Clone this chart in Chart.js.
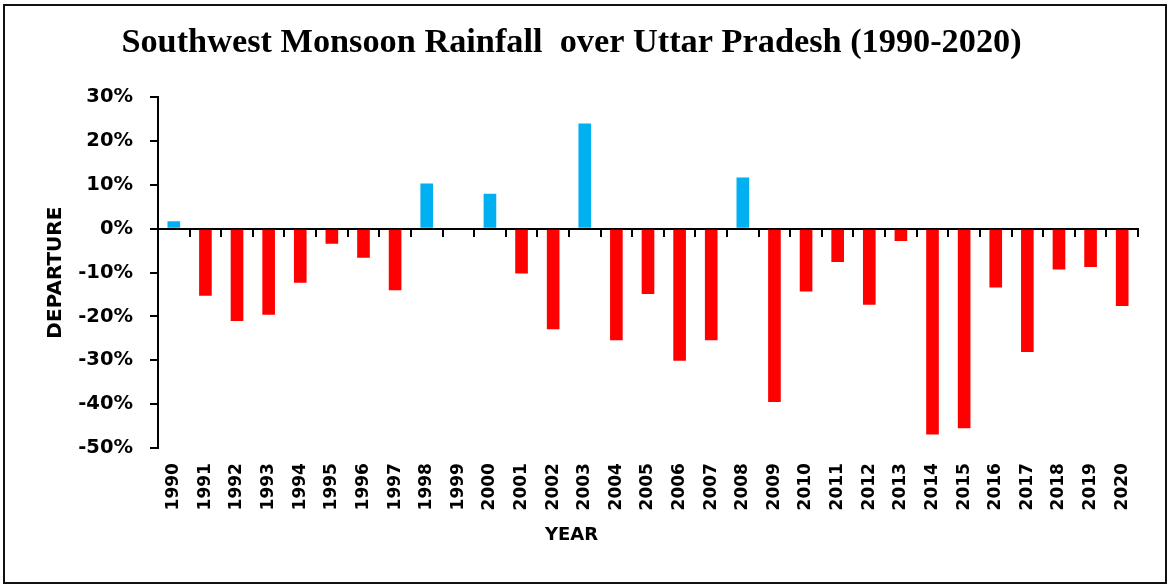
<!DOCTYPE html>
<html>
<head>
<meta charset="utf-8">
<title>Southwest Monsoon Rainfall over Uttar Pradesh (1990-2020)</title>
<script src="https://cdn.jsdelivr.net/npm/chart.js@4.4.1/dist/chart.umd.min.js"></script>
<style>
  html, body { margin: 0; padding: 0; background: #ffffff; }
  #frame {
    position: absolute; left: 3px; top: 4px;
    width: 1160px; height: 576px;
    border: 2px solid #111111; background: #ffffff;
  }
  canvas { display: block; }
</style>
</head>
<body>
<div id="frame"><canvas id="chart" width="1160" height="576"></canvas></div>
<script>
// Seasonal (June–September) rainfall departure from normal, in percent
const years = [
  '1990','1991','1992','1993','1994','1995','1996','1997','1998','1999',
  '2000','2001','2002','2003','2004','2005','2006','2007','2008','2009',
  '2010','2011','2012','2013','2014','2015','2016','2017','2018','2019','2020'
];
const departure = [
  1.7, -15.3, -21.0, -19.6, -12.3, -3.4, -6.6, -14.0, 10.3, 0.0,
  8.0, -10.2, -22.9, 24.0, -25.4, -14.9, -30.1, -25.4, 11.7, -39.5,
  -14.3, -7.6, -17.3, -2.8, -46.9, -45.5, -13.4, -28.1, -9.3, -8.7, -17.6
];
const yMin = -50, yMax = 30, yStep = 10;

const excessColor = '#00B0F0';
const deficitColor = '#FF0000';

const tickFont = { family: 'DejaVu Sans', weight: 'bold', size: 19.5 };
const yearFont = { family: 'DejaVu Sans', weight: 'bold', size: 17 };
const yTitleFont = { family: 'DejaVu Sans', weight: 'bold', size: 20 };
const xTitleFont = { family: 'DejaVu Sans', weight: 'bold', size: 18 };

Chart.defaults.color = '#000000';

new Chart(document.getElementById('chart'), {
  type: 'bar',
  data: {
    labels: years,
    datasets: [{
      label: 'Departure',
      data: departure,
      backgroundColor: departure.map(v => v >= 0 ? excessColor : deficitColor),
      borderWidth: 0,
      categoryPercentage: 1.0,
      barPercentage: 0.4
    }]
  },
  options: {
    responsive: false,
    animation: false,
    layout: { padding: { left: 0, right: 27, top: 0, bottom: 0 } },
    plugins: {
      legend: { display: false },
      tooltip: { enabled: false },
      title: {
        display: true,
        text: 'Southwest Monsoon Rainfall  over Uttar Pradesh (1990-2020)',
        color: '#000000',
        font: { family: 'Liberation Serif', weight: 'bold', size: 34.3 },
        padding: { top: 17, bottom: 33 }
      },
      subtitle: {
        display: true,
        position: 'bottom',
        text: 'YEAR',
        color: '#000000',
        font: xTitleFont,
        padding: { top: 7, bottom: 36 }
      }
    },
    scales: {
      x: {
        type: 'category',
        position: 'bottom',
        offset: true,
        grid: { display: false, offset: true },
        border: { display: false },
        ticks: {
          font: yearFont,
          color: '#000000',
          minRotation: 90,
          maxRotation: 90,
          autoSkip: false,
          padding: 7
        }
      },
      // baseline at 0% with tick marks between the years
      x0: {
        type: 'category',
        position: { y: 0 },
        offset: true,
        grid: {
          display: true,
          offset: true,
          drawOnChartArea: false,
          drawTicks: true,
          tickLength: 7,
          color: '#000000',
          lineWidth: 2
        },
        border: { display: true, color: '#000000', width: 2 },
        ticks: { display: false }
      },
      y: {
        type: 'linear',
        position: 'left',
        min: yMin,
        max: yMax,
        afterFit: scale => { scale.width = 153; },
        grid: {
          display: true,
          drawOnChartArea: false,
          drawTicks: true,
          tickLength: 8,
          color: '#000000',
          lineWidth: 2
        },
        border: { display: true, color: '#000000', width: 2 },
        ticks: {
          stepSize: yStep,
          font: tickFont,
          color: '#000000',
          padding: 17,
          callback: v => v + '%'
        },
        title: {
          display: true,
          text: 'DEPARTURE',
          color: '#000000',
          font: yTitleFont,
          padding: { top: 39, bottom: 0 }
        }
      }
    }
  }
});
</script>
</body>
</html>
